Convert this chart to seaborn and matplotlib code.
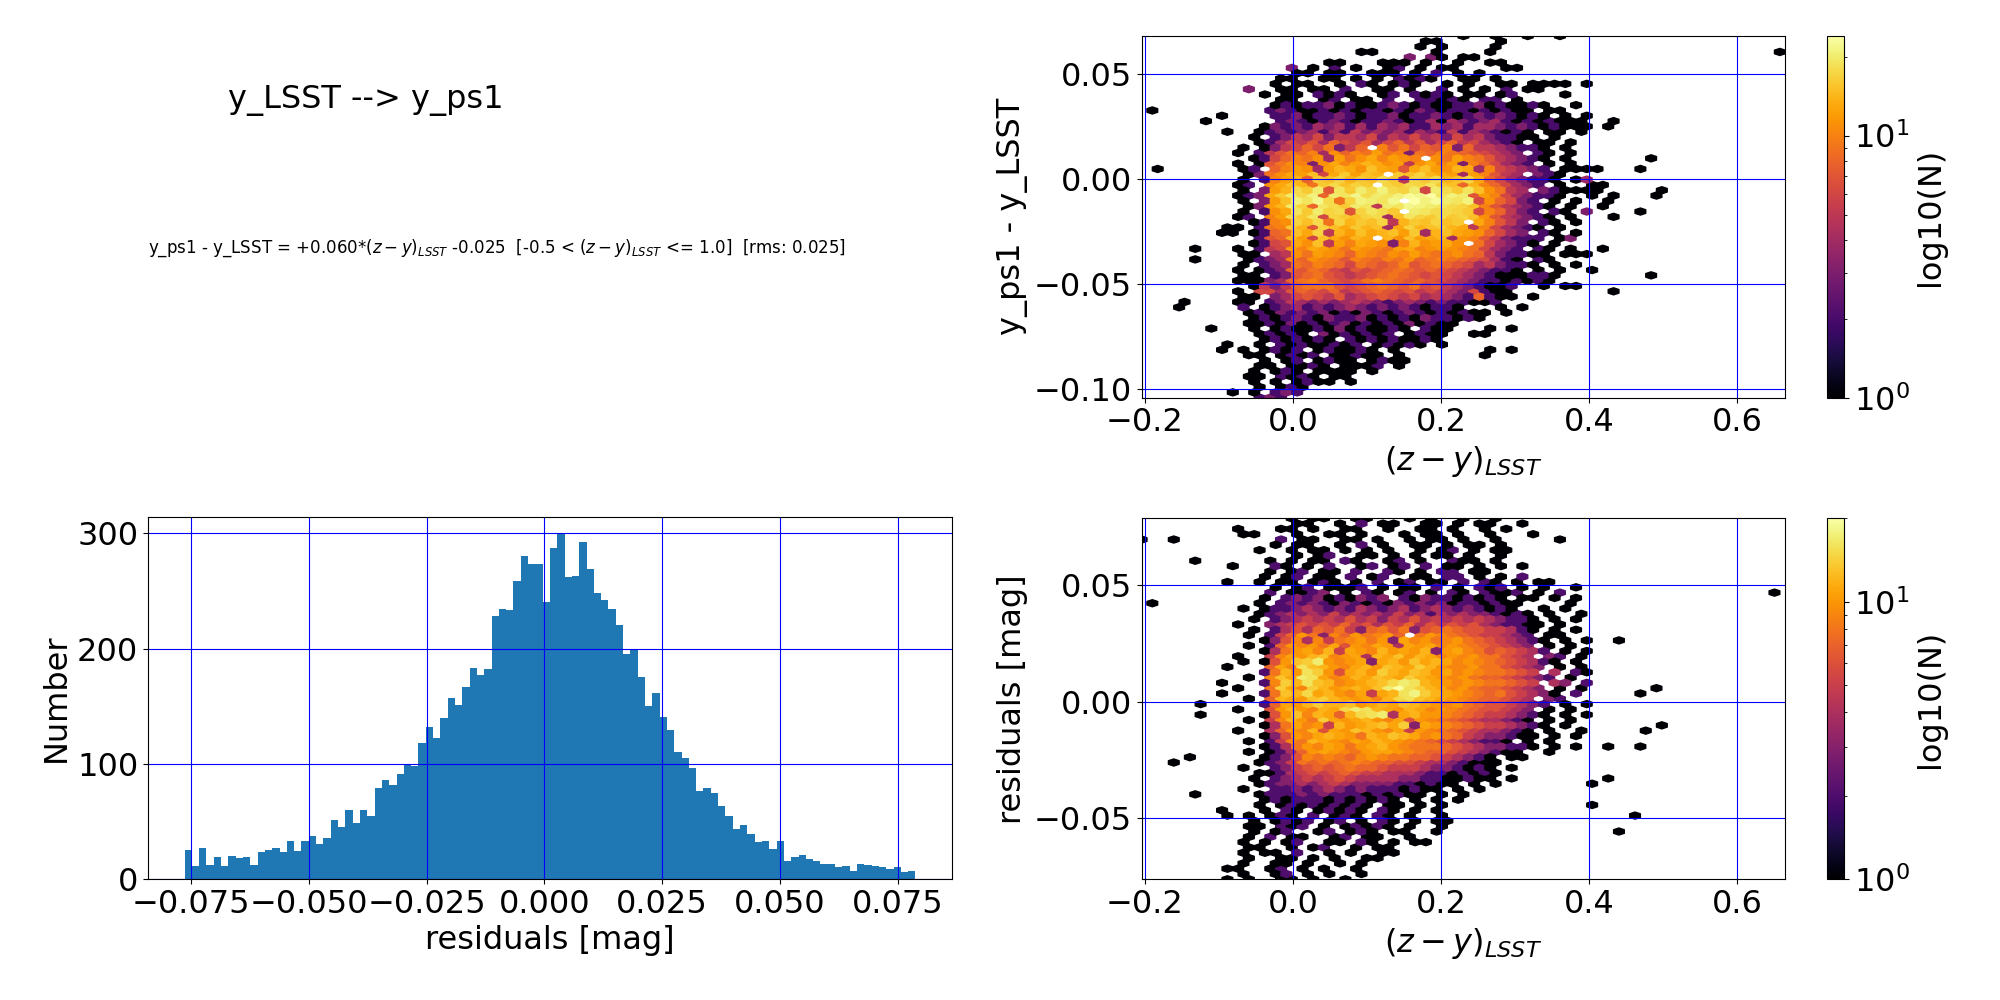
import numpy as np
import pandas as pd
import matplotlib
matplotlib.use("Agg")
import matplotlib.pyplot as plt
import seaborn as sns

# residual histogram, 100 bins between the clip limits
res_range = (-0.0764, 0.0788)
res_counts = [25, 11, 27, 12, 19, 11, 20, 18, 19, 12,
              23, 25, 27, 23, 33, 24, 33, 37, 30, 36,
              51, 45, 60, 49, 60, 55, 79, 86, 82, 91,
              99, 98, 118, 132, 122, 140, 157, 151, 167, 183,
              177, 182, 228, 234, 233, 259, 280, 273, 273, 240,
              287, 299, 262, 263, 292, 269, 248, 242, 234, 220,
              195, 199, 175, 150, 161, 141, 129, 110, 105, 96,
              76, 79, 75, 63, 55, 43, 47, 39, 32, 33,
              26, 33, 16, 19, 21, 17, 16, 13, 13, 10,
              11, 7, 13, 12, 11, 10, 9, 10, 6, 7]

# data extents of the two hexbin panels
color_range = (-0.2046, 0.665)
diff_range = (-0.1040, 0.0682)

# hexbin cell counts, hex rows from top to bottom,
# "col:counts" segments, '.'=0, '1'-'9', 'a'=10 ... 'o'=24
CODE = ".123456789abcdefghijklmno"

top_rows = [
    "30:1..1..1..1",
    "26:11 33:1",
    "26:1.1 33:1",
    "20:11 27:1 32:1 59:1",
    "25:3.31.11",
    "17:11...111.1..1..11",
    "14:3.1.2.1..12.1.11 34:11",
    "14:11.11..111.1.2.1.1",
    "13:11..11.1.1.2121..11.1",
    "12:1.11..1.21.121..1.1..11.1111.1",
    "10:3..11.11.2..11.1..2.1.1.2.11",
    "11:1.11.2121..12.2121.11.12 39:1",
    "13:11..12.11.2..22121.22.1",
    "12:12122312112321211223121121..1",
    "1:1 12:2321121212212132122121211.11",
    "7:1 12:22312232122312232123232121.1.1",
    "6:1 13:2321232122321241432342121211 41:1 44:1",
    "11:1323243424243422434244323212111.1",
    "8:1..12323424253434243252432121.11.1",
    "9:.1.2354635546354645364532211.1..",
    "9:..1246574865746857468564321.11.1",
    "9:1.1356869358.a79687a385543221.1.",
    "9:1.25798a4b8a9c9a398a9876543.21.1",
    "9:.1268a9b4c9bdacba.b9ca9754321.1. 47:1",
    "9:1.179ba3bdacedbc5bdac3a86432.1.1",
    "1:1 9:12.8acb4cedbfdc7dfcbed4a65432.11 41:11 46:1",
    "9:.139bdcf6dgcfe.gfhedc4ca754.321.",
    "9:1.2ace8gfhegfig5hgiefhd8643221.1 41:4",
    "9:12.bdfe9gifhg.hgihjgf8ea86432.1. 42:11",
    "9:1.3ceigk7jgkilihk6kigjfb954.3211 41:11 48:1",
    "9:123dgkil8kjmikjlnmojlk7ca643221. 42:1 44:1 48:1",
    "9:1.3cfljmi9hlkjm.olnkjl6b8632.1.1 43:1",
    "9:.13cekh8jigkj5kjmlkjihfa754321.1 43:1",
    "9:1.2bdjgkhi7hjig.kjiihg6a8532.21. 41:3 46:1",
    "9:12.acigj6hgfhi4fjhgighfb754321.1 44:1",
    "9:.12abhfi9hegfh5egfhfg.da753.21.1",
    "8:1 9:1.29age7hfdgef4dhefged5a64321.1.",
    "7:11 9:.1289fdh5ecfdefcg4efdcb8643.21.1",
    "9:..278ec6fdbed.ebfcde4ba753222.13",
    "9:.1267dbf5cadcb3aebcdb.964321.1..",
    "5:1 9:1.256cadcb9cba9cdabcba96432.21.1 43:1",
    "9:11.45b9cba8ba9baca9ab98532211.11 41:1",
    "5:1 9:.1234a8ba97a98a9b89a9876421.21..",
    "9:1.23498a9869878a789876453221.1.1",
    "9:1.1238798657678987876543221.1.1. 42:1",
    "9:11.237897656789876765432111221.. 47:1",
    "9:1113489a87679a9878765432212121..",
    "9:.1535899976789879675432112..1.11",
    "9:1.664787685678767565436211...... 44:1",
    "9:11.34676574567656454328211.1....",
    "4:1 9:11.2354343454323432322112",
    "3:1 9:2.1234232343232321221 33:1.1",
    "9:.12132323121321232121211 34:1",
    "10:1212321322312121322121",
    "10:11213121231212131211",
    "6:1 10:1.1211213121121.211 32:1.1",
    "10:.12121.3121212.1211..1 32:1",
    "11:1212121.212121121",
    "8:1 11:1.21211212.12121.1",
    "7:1.1 11:1212.121121.1 32:1.1",
    "10:1 11:1.1212.11211.1 32:1",
    "11:1.12.1211.1211",
    "11:11.1121.1112.1",
    "10:1.121.1111.1",
    "10:11.2121.11",
    "10:1.1.1211.1",
    "11:1.121",
    "8:1.1.232",
    "11:232",
]

bottom_rows = [
    "14:1.11..11...1.1..1..1",
    "14:11..1.2.11..11.1.11..1",
    "9:1 13:11.1..11..1..11.1..1.1",
    "9:11 14:1..11.1...1.11.1..1 36:1",
    "0:1 3:1 13:2.11..11.1..1.11.1 33:1 39:1",
    "12:1.11..1.2.1..11.1.11.1",
    "11:1..1.11.1.1.1..1.12.1.11",
    "14:1.12..11.1.1.11.1..1",
    "5:1 12:1.1.11.21..12.1..211 33:1",
    "8:1 12:21.1.2..12.12.2.11.1.1 35:1",
    "12:1.12.11.2..21.1.22.11",
    "11:1.12.11.2.12..11.22.1.1.2",
    "8:1 11:1.11.121.1.2.12.11.2.21.1.11",
    "12:1.12.1112.1.11.2.1.212.1.1..1",
    "12:2.1123.1.21.12.1.21.2112.1.1 39:1 59:1",
    "11:1.2323121323.2132212121.11.1.1",
    "1:1 11:1.23232132121323231221211 40:1",
    "9:1 11:122343232432342343232121..1.1",
    "11:1234343534343534243433 33:2121.1..1",
    "10:1 11:.234545464535464545454 33:3221.1.1.",
    "9:1 11:.345656575646574656564 33:32211.1..",
    "10:1 11:.246476853786836787665 33:5421.1.1.",
    "10:1 11:.257a8397a89a7.8a98765 33:5432.11..",
    "11:136949589a8a3b9a89a876 33:54321.1.1 44:1",
    "10:1 11:.27a9a8b6a9ba4bab9a987 33:6543.1.1.",
    "11:148ab9c5ba9cabac3ab986 33:76542.1.1",
    "9:1 11:.59bacd9ab4cbdacb9a9a8 33:8654.32.1",
    "9:1 11:16adeha9ab3bcadbcb9a98 33:765421.1.",
    "8:1 11:.7b9gdca9bcadcbeca99a8 33:86543.1.1",
    "11:28cagea6bcaecbdcab9a98 33:8765.4.21",
    "10:1 11:.9dbhgb9acbdcbecba9a87 33:765432.1.",
    "7:1 11:29ecgdc9abcdfhgcba9a98 33:8765.43.2",
    "9:1 11:.8eb9ecabcbdhkgecb9a87 33:76543.1.1 48:1",
    "7:1 11:28dcfbca9b5bcgiecba987 33:865431.2. 46:1",
    "10:1 11:.7cbadecbab9cfgdcba987 33:7654.32..",
    "5:1 11:27baceccdabcbdcba9a876 33:65432.1.1",
    "9:1 11:.6aca9cbfhgcbacb9a9876 33:6543.1.1.",
    "5:1 11:16ad9cb7cfgh4bcaa98765 33:54321.1.1",
    "10:1 11:.59ca8ebabca9b6a987654 33:4321.1.1.",
    "11:148b9a5cabcdbe3ba98765 33:54321.1.. 48:1",
    "9:1 11:.47a9c6badca9b5a987654 33:4321.1..1 47:1",
    "11:136a9bcba8cbdcb9a87543 33:3211.1.1.",
    "10:1 11:.2598cba9bacba98765432 33:21.1.1...",
    "11:1248a9ba8abca988876543 33:3221.1.1. 43:1 46:1",
    "10:1 11:.1247aba98abba98776543 33:211..1...",
    "4:1 11:1236989879a98877654321.11",
    "3:1 11:12358787898776654432111",
    "9:1 11:.235676787765554332121.1",
    "11:11245656765544432212121",
    "10:1 11:.234545654444332211211.1 43:1",
    "11:1233434543333221211.1.1 42:1",
    "9:1 11:.2232343232221211.1.1",
    "5:1 11:1222323222121211.1.1",
    "11:1212221212121.1.1.1",
    "11:1.121212121.11.1.1 42:1",
    "7:1 11:1.21.12121.21.1.1",
    "8:1 10:1.121.2.121.21.1..1 46:1",
    "10:1.1212.12.1.21.1.11",
    "10:11.212.1.12121.1..1",
    "10:1.12..12.121.11..1 44:1",
    "10:1.2.11..12.11..1",
    "9:1.1.12..11.21.1.11",
    "10:11..1.12..1.11",
    "9:1.11.2..1.1..11",
    "10:1..11.1.1..11",
    "9:1..11.1..1.1",
    "8:11..12.1.1..1",
    "9:1..12.1.1..1",
    "8:1.1..11.1..1",
]

GRID = 60


def hex_cells(rows, extent):
    # turn the count map into one weighted point per hexagon centre
    x0, x1, y0, y1 = extent
    ny = int(GRID / np.sqrt(3))
    sx = (x1 - x0) / GRID
    sy = (y1 - y0) / ny
    xs, ys, cs = [], [], []
    for r, row in enumerate(rows):
        k = 2 * ny - r
        for seg in row.split():
            col, chars = seg.split(":")
            for n, ch in enumerate(chars):
                v = CODE.index(ch)
                if v == 0:
                    continue
                i = int(col) + n
                if k % 2 == 0:
                    xs.append(x0 + i * sx)
                    ys.append(y0 + (k // 2) * sy)
                else:
                    xs.append(x0 + (i + 0.5) * sx)
                    ys.append(y0 + (k // 2 + 0.5) * sy)
                cs.append(v)
    return np.array(xs), np.array(ys), np.array(cs, dtype=float)


plt.rcParams['font.size'] = 23

fig = plt.figure(figsize=(20, 10), dpi=100)

# text panel
ax0 = fig.add_axes([0.074, 0.6023, 0.402, 0.3617])
ax0.axis('off')
ax0.text(0.1, 0.8, "y_LSST --> y_ps1", transform=ax0.transAxes, fontsize=23)
ax0.text(0.0, 0.4,
         r"y_ps1 - y_LSST = +0.060*$(z-y)_{LSST}$ -0.025  [-0.5 < $(z-y)_{LSST}$ <= 1.0]  [rms: 0.025]",
         transform=ax0.transAxes, fontsize=12)

# top right: difference vs colour
ax1 = fig.add_axes([0.5708, 0.6023, 0.3218, 0.3617])
cax1 = fig.add_axes([0.9134, 0.6023, 0.0088, 0.3617])
ext1 = (*color_range, *diff_range)
x, y, c = hex_cells(top_rows, ext1)
hb1 = ax1.hexbin(x, y, C=c, reduce_C_function=np.sum, gridsize=GRID,
                 extent=ext1, bins='log', cmap='inferno')
ax1.set_xlim(color_range)
ax1.set_ylim(diff_range)
cb1 = fig.colorbar(hb1, cax=cax1)
cb1.set_label('log10(N)')
ax1.set_xlabel(r"$(z-y)_{LSST}$")
ax1.set_ylabel("y_ps1 - y_LSST")
ax1.grid(True, color='b')

# bottom left: residual histogram
ax2 = fig.add_axes([0.074, 0.121, 0.402, 0.3618])
edges = np.linspace(res_range[0], res_range[1], len(res_counts) + 1)
hist_df = pd.DataFrame({"res": 0.5 * (edges[:-1] + edges[1:]),
                        "n": res_counts})
sns.histplot(data=hist_df, x="res", weights="n", bins=len(res_counts),
             binrange=res_range, ax=ax2,
             color='#1f77b4', alpha=1, edgecolor='none', linewidth=0)
ax2.set_xlabel("residuals [mag]")
ax2.set_ylabel("Number")
ax2.grid(True, color='b')

# bottom right: residuals vs colour
ax3 = fig.add_axes([0.5708, 0.1207, 0.3218, 0.361])
cax3 = fig.add_axes([0.9134, 0.1207, 0.0088, 0.361])
ext3 = (*color_range, *res_range)
x, y, c = hex_cells(bottom_rows, ext3)
hb3 = ax3.hexbin(x, y, C=c, reduce_C_function=np.sum, gridsize=GRID,
                 extent=ext3, bins='log', cmap='inferno')
ax3.set_xlim(color_range)
ax3.set_ylim(res_range)
cb3 = fig.colorbar(hb3, cax=cax3)
cb3.set_label('log10(N)')
ax3.set_xlabel(r"$(z-y)_{LSST}$")
ax3.set_ylabel("residuals [mag]")
ax3.grid(True, color='b')

fig.savefig("out.png", dpi=100)
